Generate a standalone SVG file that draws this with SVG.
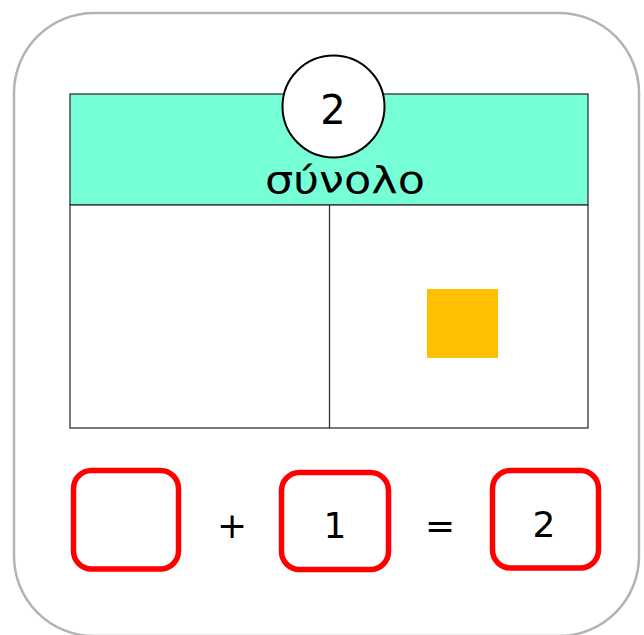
<svg xmlns="http://www.w3.org/2000/svg" width="644" height="635" viewBox="0 0 644 635">
<style>
.t{font-family:"DejaVu Sans","Noto Sans",sans-serif;fill:#000;text-anchor:middle}
.box{fill:#fff;stroke:#ff0000;stroke-width:5.5}
.ln{stroke:#333;stroke-width:1.3}
</style>
<rect width="644" height="635" fill="#fff"/>
<g id="frame"><rect x="14" y="13" width="625" height="623" rx="80" fill="#fff" stroke="#b3b3b3" stroke-width="2.5"/></g>
<g id="table">
<rect x="70" y="94" width="518" height="111" fill="#76fed6" class="ln"/>
<rect x="70" y="205" width="518" height="223" fill="#fff" class="ln"/>
<line x1="329.5" y1="205" x2="329.5" y2="428" class="ln"/>
<text x="345" y="193" class="t" font-size="38" textLength="160" lengthAdjust="spacingAndGlyphs">σύνολο</text>
</g>
<g id="total">
<circle cx="333.5" cy="106.5" r="51" fill="#fff" stroke="#000" stroke-width="2"/>
<text x="333" y="124" class="t" font-size="40">2</text>
</g>
<g id="square"><rect x="427" y="289" width="71" height="69" fill="#ffc000"/></g>
<g id="eq1"><rect x="73.5" y="470.5" width="105" height="98.5" rx="18" class="box"/></g>
<text x="232" y="538" class="t" font-size="36">+</text>
<g id="eq2"><rect x="281.5" y="472.5" width="107" height="97" rx="18" class="box"/>
<text x="335" y="538" class="t" font-size="36">1</text></g>
<text x="440" y="538" class="t" font-size="36">=</text>
<g id="eq3"><rect x="492.5" y="470.5" width="106" height="97.5" rx="18" class="box"/>
<text x="544" y="537" class="t" font-size="36">2</text></g>
</svg>
